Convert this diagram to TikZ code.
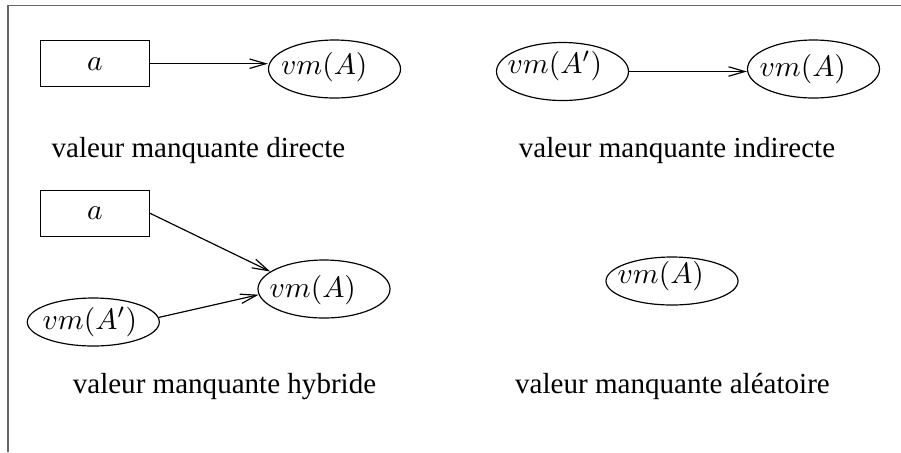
\documentclass[tikz,border=0pt]{standalone}
\usepackage{fontspec}
\setmainfont{Liberation Serif}
\usetikzlibrary{shapes.geometric,arrows.meta}
\begin{document}
\begin{tikzpicture}[x=0.339pt,y=-0.339pt,
  frame/.style={draw=black!60,line width=0.65pt},
  attrbox/.style={draw,rectangle,minimum width=36.95pt,minimum height=15.6pt,inner sep=0pt},
  vmell/.style={draw,ellipse,minimum width=44.75pt,minimum height=19.66pt,inner sep=0pt},
  vmflat/.style={vmell,minimum height=16.27pt},
  vmtext/.style={anchor=base west,inner sep=0pt},
  caption/.style={anchor=base,inner sep=0pt,font=\fontsize{9.85pt}{12pt}\selectfont},
  link/.style={-{Straight Barb[length=5.5pt,width=3.2pt]},line width=0.4pt}]
\useasboundingbox (0,0) rectangle (901,452);

% open frame: left and top edges only
\coordinate (fa) at (8.3,452);
\coordinate (fb) at (8.3,5.5);
\coordinate (fc) at (901,5.5);
\draw[frame] (fa) -- (fb) -- (fc);

% direct missing value
\node[attrbox] (a1) at (95,63.7) {$a$};
\node[vmell] (e1) at (334.5,69) {};
\node[vmtext] (t1) at (280.5,74) {$vm(A)$};
\draw[link] (a1.east) -- (a1.east -| e1.west);
\node[caption] (c1) at (198.5,157) {valeur manquante directe};

% indirect missing value
\node[vmell] (e2) at (562.5,71.5) {};
\node[vmtext] (t2) at (507,73.5) {$vm(A')$};
\node[vmell] (e3) at (813.5,69) {};
\node[vmtext] (t3) at (759,76) {$vm(A)$};
\draw[link] (e2.east) -- (e2.east -| e3.west);
\node[caption] (c2) at (677,157) {valeur manquante indirecte};

% hybrid missing value
\node[attrbox] (a2) at (95,213.3) {$a$};
\node[vmell] (e4) at (324,289) {};
\node[vmtext] (t4) at (269,297) {$vm(A)$};
\node[vmflat] (e5) at (93.3,322) {};
\node[vmtext] (t5) at (42,329) {$vm(A')$};
\draw[link] (a2.east) -- (e4.162);
\draw[link] (e5.4) -- (e4.185);
\node[caption] (c3) at (224.5,393) {valeur manquante hybride};

% random missing value
\node[vmflat] (e6) at (672,281) {};
\node[vmtext] (t6) at (617,283) {$vm(A)$};
\node[caption] (c4) at (672.5,393) {valeur manquante aléatoire};
\end{tikzpicture}
\end{document}
